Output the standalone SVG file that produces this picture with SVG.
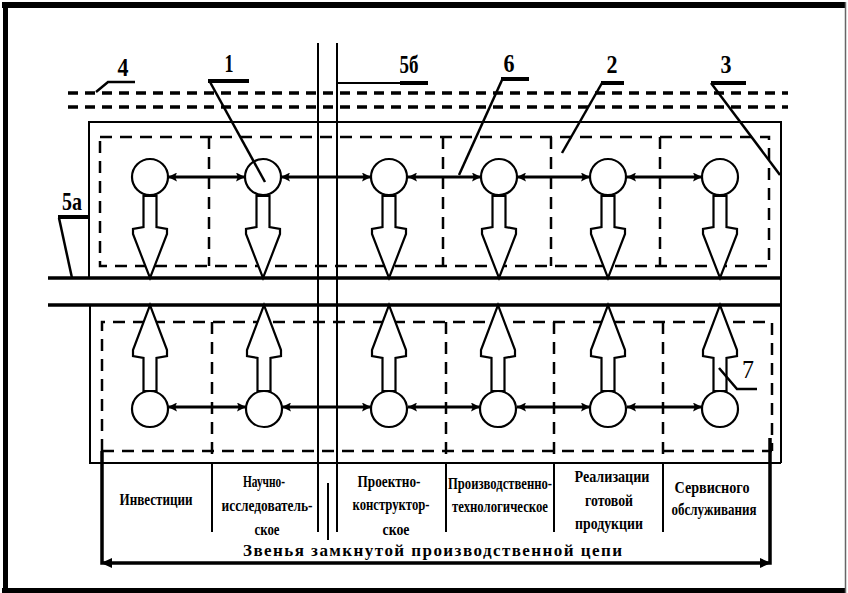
<svg xmlns="http://www.w3.org/2000/svg" width="848" height="593" viewBox="0 0 848 593">
  <style>
    .solid { fill: none; stroke: #000; stroke-width: 2; }
    .heavy { fill: none; stroke: #000; stroke-width: 3.5; }
    .dash { fill: none; stroke: #000; stroke-width: 2.5; stroke-dasharray: 12 8; }
    .dash-top { fill: none; stroke: #000; stroke-width: 3.5; stroke-dasharray: 10 7; }
    .node circle { fill: #fff; stroke: #000; stroke-width: 2.2; }
    .node polygon { fill: #fff; stroke: #000; stroke-width: 2.2; stroke-linejoin: miter; }
    .link { fill: none; stroke: #000; stroke-width: 3; marker-start: url(#head); marker-end: url(#head); }
    .leader { fill: none; stroke: #000; stroke-width: 2.5; }
    .shelf { fill: none; stroke: #000; stroke-width: 4; }
    .num { font-family: "Liberation Serif", "Times New Roman", serif; font-weight: bold; font-size: 25px; fill: #000; text-anchor: middle; }
    .lbl { font-family: "Liberation Serif", "Times New Roman", serif; font-weight: bold; font-size: 17px; fill: #000; text-anchor: middle; }
    .cap { font-family: "Liberation Serif", "Times New Roman", serif; font-weight: bold; font-size: 17px; fill: #000; }
  </style>
  <defs>
    <marker id="head" viewBox="0 0 10 10" refX="10" refY="5" markerWidth="9" markerHeight="9" markerUnits="userSpaceOnUse" orient="auto-start-reverse">
      <path d="M0,0 L10,5 L0,10 L2,5 Z" fill="#000"/>
    </marker>
  </defs>

  <rect width="848" height="593" fill="#fff"/>

  <!-- outer frame -->
  <g id="frame">
    <rect x="2" y="2" width="844" height="6" fill="#000"/>
    <rect x="3" y="2" width="5" height="591" fill="#000"/>
    <rect x="2" y="588" width="844" height="5" fill="#000"/>
    <line x1="845.5" y1="2" x2="845.5" y2="593" stroke="#666" stroke-width="1.5"/>
  </g>

  <!-- structural lines -->
  <g id="structure">
    <line class="dash-top" x1="68" y1="93" x2="788" y2="93" stroke-width="3"/>
    <line class="dash-top" x1="68" y1="107" x2="788" y2="107"/>
    <!-- upper enclosure -->
    <polyline class="solid" points="89,278 89,122 781,122 781,463"/>
    <line class="heavy" x1="48" y1="278" x2="781" y2="278"/>
    <line class="heavy" x1="48" y1="305" x2="781" y2="305"/>
    <!-- lower enclosure -->
    <polyline class="solid" points="90,305 90,463 781,463" stroke-width="2.5"/>
    <!-- dashed upper box -->
    <rect class="dash" x="100" y="137" width="669" height="129"/>
    <line class="dash" x1="209" y1="137" x2="209" y2="266"/>
    <line class="dash" x1="443" y1="137" x2="443" y2="266"/>
    <line class="dash" x1="551" y1="137" x2="551" y2="266"/>
    <line class="dash" x1="660" y1="137" x2="660" y2="266"/>
    <!-- dashed lower box -->
    <polyline class="dash" points="102,451 102,322 772,322 772,451"/>
    <line class="dash" x1="102" y1="451" x2="772" y2="451" stroke="#777"/>
    <line class="dash" x1="212" y1="322" x2="212" y2="463"/>
    <line class="dash" x1="446" y1="322" x2="446" y2="463"/>
    <line class="dash" x1="554" y1="322" x2="554" y2="463"/>
    <line class="dash" x1="663" y1="322" x2="663" y2="463"/>
    <!-- column separators -->
    <line class="solid" x1="318" y1="43" x2="318" y2="532" stroke-width="2.5"/>
    <line class="solid" x1="337" y1="43" x2="337" y2="532" stroke-width="2.5"/>
    <line class="solid" x1="328" y1="483" x2="328" y2="540"/>
    <line class="solid" x1="212" y1="463" x2="212" y2="532" stroke-width="2.5"/>
    <line class="solid" x1="446" y1="463" x2="446" y2="532" stroke-width="2.5"/>
    <line class="solid" x1="554" y1="463" x2="554" y2="532" stroke-width="2.5"/>
    <line class="solid" x1="663" y1="463" x2="663" y2="532" stroke-width="2.5"/>
    <!-- bottom span bracket -->
    <polyline class="heavy" points="102,451 102,563 770,563 770,438"/>
    <path d="M101,563 L112,558 L112,568 Z" fill="#000"/>
    <path d="M771,563 L760,558 L760,568 Z" fill="#000"/>
  </g>

  <!-- upper row nodes -->
  <g id="u1" class="node"><polygon points="143.5,196 143.5,227 133,229 133,234 150,278 167,234 167,229 156.5,227 156.5,196"/><circle cx="150" cy="177" r="18"/></g>
  <g id="u2" class="node"><polygon points="256.5,196 256.5,227 246,229 246,234 263,278 280,234 280,229 269.5,227 269.5,196"/><circle cx="263" cy="177" r="18"/></g>
  <g id="u3" class="node"><polygon points="382.5,196 382.5,227 372,229 372,234 389,278 406,234 406,229 395.5,227 395.5,196"/><circle cx="389" cy="177" r="18"/></g>
  <g id="u4" class="node"><polygon points="492.5,196 492.5,227 482,229 482,234 499,278 516,234 516,229 505.5,227 505.5,196"/><circle cx="499" cy="177" r="18"/></g>
  <g id="u5" class="node"><polygon points="601.5,196 601.5,227 591,229 591,234 608,278 625,234 625,229 614.5,227 614.5,196"/><circle cx="608" cy="177" r="18"/></g>
  <g id="u6" class="node"><polygon points="713.5,196 713.5,227 703,229 703,234 720,278 737,234 737,229 726.5,227 726.5,196"/><circle cx="720" cy="177" r="18"/></g>

  <!-- lower row nodes -->
  <g id="l1" class="node"><polygon points="143.5,391 143.5,358 133,356 133,350 150,305 167,350 167,356 156.5,358 156.5,391"/><circle cx="150" cy="409" r="18"/></g>
  <g id="l2" class="node"><polygon points="257.5,391 257.5,358 247,356 247,350 264,305 281,350 281,356 270.5,358 270.5,391"/><circle cx="264" cy="409" r="18"/></g>
  <g id="l3" class="node"><polygon points="382.5,391 382.5,358 372,356 372,350 389,305 406,350 406,356 395.5,358 395.5,391"/><circle cx="389" cy="409" r="18"/></g>
  <g id="l4" class="node"><polygon points="491.5,391 491.5,358 481,356 481,350 498,305 515,350 515,356 504.5,358 504.5,391"/><circle cx="498" cy="409" r="18"/></g>
  <g id="l5" class="node"><polygon points="601.5,391 601.5,358 591,356 591,350 608,305 625,350 625,356 614.5,358 614.5,391"/><circle cx="608" cy="409" r="18"/></g>
  <g id="l6" class="node"><polygon points="713.5,391 713.5,358 703,356 703,350 720,305 737,350 737,356 726.5,358 726.5,391"/><circle cx="720" cy="409" r="18"/></g>

  <!-- connectors between links of the chain -->
  <g id="connectors">
    <line class="link" x1="168" y1="177" x2="245" y2="177"/>
    <line class="link" x1="281" y1="177" x2="371" y2="177"/>
    <line class="link" x1="408" y1="177" x2="481" y2="177"/>
    <line class="link" x1="517" y1="177" x2="590" y2="177"/>
    <line class="link" x1="627" y1="177" x2="702" y2="177"/>
    <line class="link" x1="168" y1="407" x2="246" y2="407"/>
    <line class="link" x1="282" y1="407" x2="371" y2="407"/>
    <line class="link" x1="408" y1="407" x2="480" y2="407"/>
    <line class="link" x1="517" y1="407" x2="590" y2="407"/>
    <line class="link" x1="627" y1="407" x2="702" y2="407"/>
  </g>

  <!-- callouts -->
  <g id="callouts">
    <text class="num" x="123" y="76" textLength="11" lengthAdjust="spacingAndGlyphs">4</text>
    <polyline class="leader" points="135,82 108,82 96,92"/>
    <text class="num" x="229" y="72" textLength="9" lengthAdjust="spacingAndGlyphs">1</text>
    <line class="shelf" x1="208" y1="81" x2="249" y2="81"/>
    <line class="leader" x1="210" y1="82" x2="265" y2="182"/>
    <text class="num" x="409" y="73" font-size="22" textLength="19" lengthAdjust="spacingAndGlyphs">5б</text>
    <line class="solid" x1="337" y1="83" x2="400" y2="83" stroke-width="1.8"/>
    <line class="shelf" x1="400" y1="83" x2="428" y2="83"/>
    <text class="num" x="509" y="72" textLength="11" lengthAdjust="spacingAndGlyphs">6</text>
    <line class="shelf" x1="501" y1="79" x2="529" y2="79"/>
    <line class="leader" x1="502" y1="80" x2="459" y2="175"/>
    <text class="num" x="612" y="73" textLength="11" lengthAdjust="spacingAndGlyphs">2</text>
    <line class="shelf" x1="601" y1="83" x2="624" y2="83" stroke-width="3"/>
    <line class="leader" x1="602" y1="83" x2="562" y2="153"/>
    <text class="num" x="726" y="73" textLength="11" lengthAdjust="spacingAndGlyphs">3</text>
    <line class="shelf" x1="711" y1="83" x2="746" y2="83" stroke-width="3.5"/>
    <line class="leader" x1="711" y1="83" x2="780" y2="175"/>
    <text class="num" x="72" y="210" font-size="21" textLength="20" lengthAdjust="spacingAndGlyphs">5а</text>
    <line class="shelf" x1="58" y1="217" x2="89" y2="217"/>
    <line class="leader" x1="59" y1="218" x2="72" y2="278"/>
    <text x="748" y="378" font-family="Liberation Serif, serif" font-size="26" text-anchor="middle" textLength="12" lengthAdjust="spacingAndGlyphs">7</text>
    <polyline class="leader" points="757,389 737,389 719,368"/>
  </g>

  <!-- column titles -->
  <g id="titles">
    <text class="lbl" x="156" y="505" textLength="73" lengthAdjust="spacingAndGlyphs">Инвестиции</text>
    <text class="lbl" x="264" y="487" textLength="42" lengthAdjust="spacingAndGlyphs">Научно-</text>
    <text class="lbl" x="267" y="511" textLength="91" lengthAdjust="spacingAndGlyphs">исследователь-</text>
    <text class="lbl" x="267" y="535" textLength="25" lengthAdjust="spacingAndGlyphs">ское</text>
    <text class="lbl" x="389" y="487" textLength="63" lengthAdjust="spacingAndGlyphs">Проектно-</text>
    <text class="lbl" x="391" y="510" textLength="77" lengthAdjust="spacingAndGlyphs">конструктор-</text>
    <text class="lbl" x="396" y="535" textLength="27" lengthAdjust="spacingAndGlyphs">ское</text>
    <text class="lbl" x="500" y="489" textLength="104" lengthAdjust="spacingAndGlyphs">Производственно-</text>
    <text class="lbl" x="500" y="512" textLength="96" lengthAdjust="spacingAndGlyphs">технологическое</text>
    <text class="lbl" x="612" y="482" textLength="75" lengthAdjust="spacingAndGlyphs">Реализации</text>
    <text class="lbl" x="609" y="506" textLength="48" lengthAdjust="spacingAndGlyphs">готовой</text>
    <text class="lbl" x="609" y="529" textLength="68" lengthAdjust="spacingAndGlyphs">продукции</text>
    <text class="lbl" x="712" y="493" textLength="75" lengthAdjust="spacingAndGlyphs">Сервисного</text>
    <text class="lbl" x="714" y="515" textLength="85" lengthAdjust="spacingAndGlyphs">обслуживания</text>
    <text class="cap" x="243" y="556" textLength="379" lengthAdjust="spacing">Звенья замкнутой производственной цепи</text>
  </g>
</svg>
